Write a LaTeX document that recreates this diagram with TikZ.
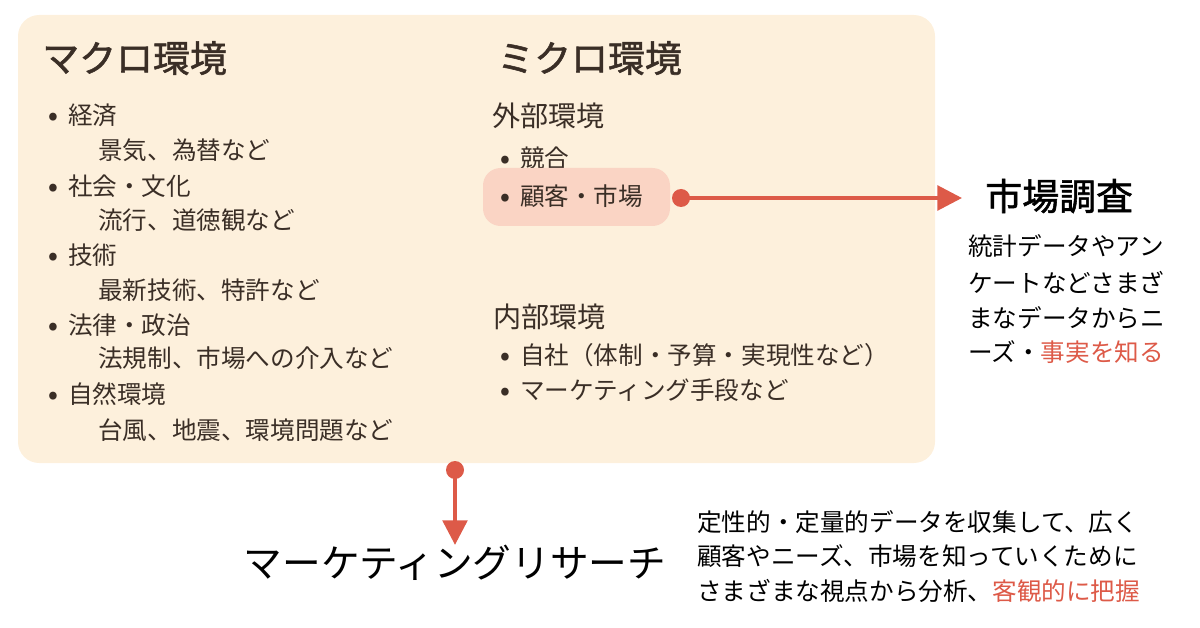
\documentclass[tikz,border=0pt]{standalone}
\usepackage{fontspec}
\setmainfont{Noto Sans CJK JP}
\newfontfamily\boldjp[FakeBold=1.5]{Noto Sans CJK JP}
\usetikzlibrary{arrows.meta,positioning,calc}
\definecolor{boxbg}{HTML}{FDF0DC}
\definecolor{hilite}{HTML}{FAD4C4}
\definecolor{txt}{HTML}{3A2E26}
\definecolor{accent}{HTML}{DD5A48}

\begin{document}
\begin{tikzpicture}[x=0.02cm,y=-0.02cm,
    title/.style={anchor=west, inner sep=0, font=\fontsize{21}{23}\selectfont\boldjp, text=txt},
    item/.style={anchor=west, inner sep=0, font=\fontsize{14}{16}\selectfont, text=txt},
    para/.style={anchor=west, inner sep=0, font=\fontsize{14}{16}\selectfont, text=black},
    arrow/.style={accent, line width=2.2pt, -{Triangle[length=14pt,width=14pt]}}]

    \useasboundingbox (0,0) rectangle (1200,628);
    \fill[boxbg, rounded corners=12pt] (18,15) rectangle (935,463);

    % macro environment
    \node[title] (macro) at (42,58) {マクロ環境};
    \node[item] (m1) at (48,115) {\textbf{•}\hspace{0.4em}経済};
    \node[item] (m1s) at (98,150) {景気、為替など};
    \node[item] (m2) at (48,186) {\textbf{•}\hspace{0.4em}社会・文化};
    \node[item] (m2s) at (98,220) {流行、道徳観など};
    \node[item] (m3) at (48,255) {\textbf{•}\hspace{0.4em}技術};
    \node[item] (m3s) at (98,290) {最新技術、特許など};
    \node[item] (m4) at (48,325) {\textbf{•}\hspace{0.4em}法律・政治};
    \node[item] (m4s) at (98,358) {法規制、市場への介入など};
    \node[item] (m5) at (48,394) {\textbf{•}\hspace{0.4em}自然環境};
    \node[item] (m5s) at (98,430) {台風、地震、環境問題など};

    % micro environment
    \node[title] (micro) at (497,58) {ミクロ環境};
    \node[item, font=\fontsize{16}{18}\selectfont] (ext) at (492,116) {外部環境};
    \node[item] (e1) at (500,158) {\textbf{•}\hspace{0.4em}競合};
    \fill[hilite, rounded corners=10pt] (483,168) rectangle (670,226);
    \node[item] (e2) at (500,196) {\textbf{•}\hspace{0.4em}顧客・市場};
    \node[item, font=\fontsize{16}{18}\selectfont] (int) at (493,317) {内部環境};
    \node[item] (i1) at (500,355) {\textbf{•}\hspace{0.4em}自社（体制・予算・実現性など）};
    \node[item] (i2) at (500,390) {\textbf{•}\hspace{0.4em}マーケティング手段など};

    % market survey
    \node[title, text=black] (survey) at (985,196) {市場調査};
    \node[para] (s1) at (968,246) {統計データやアン};
    \node[para] (s2) at (968,283) {ケートなどさまざ};
    \node[para] (s3) at (968,318) {まなデータからニ};
    \node[para] (s4) at (968,352) {ーズ・\textcolor{accent}{事実を知る}};

    % marketing research
    \node[title, anchor=center, text=black, font=\fontsize{22}{24}\selectfont] (research) at (455,563) {マーケティングリサーチ};
    \node[para] (r1) at (697,522) {定性的・定量的データを収集して、広く};
    \node[para] (r2) at (697,556) {顧客やニーズ、市場を知っていくために};
    \node[para] (r3) at (697,591) {さまざまな視点から分析、\textcolor{accent}{客観的に把握}};

    \coordinate (dotA) at (681,198);
    \coordinate (dotB) at (455,470);
    \fill[accent] (dotA) circle (9);
    \fill[accent] (dotB) circle (9);
    \draw[arrow] (dotA) -- (dotA -| 962,0);
    \draw[arrow] (dotB) -- (research.north -| dotB);
\end{tikzpicture}
\end{document}
